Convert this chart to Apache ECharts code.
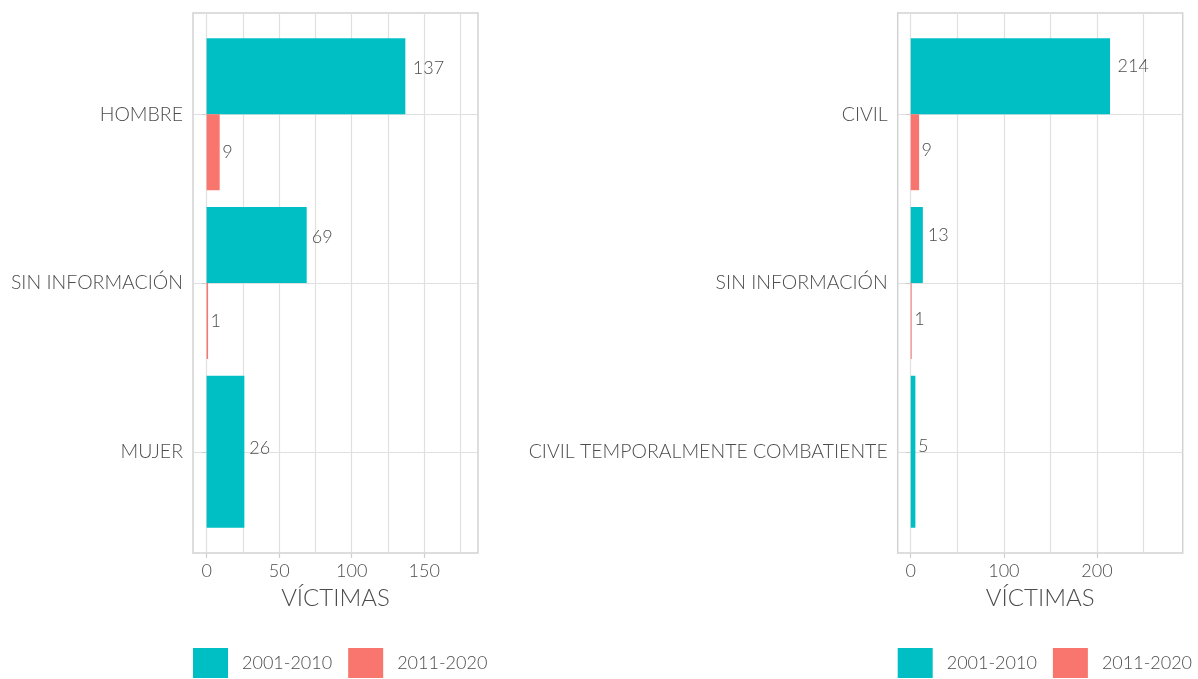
<!DOCTYPE html>
<html><head><meta charset="utf-8">
<script src="https://cdn.jsdelivr.net/npm/echarts@6/dist/echarts.min.js"></script>
<style>html,body{margin:0;padding:0;background:#fff}#c{width:1198px;height:679px}</style>
</head><body><div id="c"></div>
<script>
// ---- data ----
const seriesNames = ['2001-2010', '2011-2020'];
const leftCategories = ['HOMBRE', 'SIN INFORMACIÓN', 'MUJER'];
const left2001 = [137, 69, 26];
const left2011 = [9, 1, null];
const rightCategories = ['CIVIL', 'SIN INFORMACIÓN', 'CIVIL TEMPORALMENTE COMBATIENTE'];
const right2001 = [214, 13, 5];
const right2011 = [9, 1, null];
const leftTicks = [0, 50, 100, 150];
const rightTicks = [0, 100, 200];
const axisTitle = 'VÍCTIMAS';

const TEAL = '#00BFC4', RED = '#F8766D', TXT = '#4d4d4d';
const FONT = 'Lato', FW = 300;
const chart = echarts.init(document.getElementById('c'));

function panel(idx, frameLeft, xMin, xMax, gridMax, gridStep, ticks, cats, s1, s2, offs) {
  const W = 285, TOP = 13, H = 540;
  const ppu = W / (xMax - xMin);
  const zeroX = frameLeft + (0 - xMin) * ppu;
  const band = H / 3.2;
  const g0 = idx * 3;
  const grids = [
    {left: frameLeft, top: TOP, width: W, height: H, show: true, borderColor: '#d2d2d2', borderWidth: 1.5, backgroundColor: 'transparent'},
    {left: zeroX, top: TOP, width: gridMax * ppu, height: H},
    {left: frameLeft, top: TOP + 0.6 * band, width: W, height: 2 * band}
  ];
  const xAxes = [
    {gridIndex: g0, type: 'value', min: xMin, max: xMax,
      axisLine: {show: false},
      axisTick: {show: true, length: 5, customValues: ticks, lineStyle: {color: '#cfcfcf', width: 1.2}},
      axisLabel: {customValues: ticks, margin: 9, fontFamily: FONT, fontWeight: FW, fontSize: 18, color: TXT},
      splitLine: {show: false},
      name: axisTitle, nameLocation: 'middle', nameGap: 33,
      nameTextStyle: {fontFamily: FONT, fontWeight: FW, fontSize: 24, color: TXT}},
    {gridIndex: g0 + 1, type: 'value', min: 0, max: gridMax, interval: gridStep,
      axisLine: {show: false}, axisTick: {show: false}, axisLabel: {show: false},
      splitLine: {show: true, lineStyle: {color: '#e0e0e0', width: 1.2}}},
    {gridIndex: g0 + 2, type: 'value', min: xMin, max: xMax, show: false},
    {gridIndex: g0 + 2, type: 'value', min: xMin, max: xMax, show: false}
  ];
  const yAxes = [
    {gridIndex: g0, type: 'value', show: false},
    {gridIndex: g0 + 1, type: 'value', show: false},
    {gridIndex: g0 + 2, type: 'category', data: cats, inverse: true, boundaryGap: false,
      axisLine: {show: false},
      axisTick: {show: true, length: 5, lineStyle: {color: '#cfcfcf', width: 1.2}},
      axisLabel: {margin: 10, fontFamily: FONT, fontWeight: FW, fontSize: 19.5, color: TXT},
      splitLine: {show: true, lineStyle: {color: '#e0e0e0', width: 1.2}}},
    {gridIndex: g0 + 2, type: 'category', data: cats, inverse: true, boundaryGap: false, show: false}
  ];
  // categories where only one period has a value get a full-width bar (ggplot dodge)
  const both = s1.map((v, i) => v != null && s2[i] != null);
  const mk = (vals, mask, dy) => vals.map((v, i) => mask[i] && v != null ? {
    value: v, label: {distance: 2.5 * String(v).length, offset: [0, dy]}} : null);
  const lbl = {show: true, position: 'right', fontFamily: FONT, fontWeight: FW, fontSize: 18, color: TXT};
  const xi = idx * 4, yi = idx * 4;
  const series = [
    {name: seriesNames[0], type: 'bar', xAxisIndex: xi + 2, yAxisIndex: yi + 2, data: mk(s1, both, offs[0]),
      itemStyle: {color: TEAL}, barGap: '0%', barCategoryGap: '10%', clip: false, label: lbl, silent: true},
    {name: seriesNames[1], type: 'bar', xAxisIndex: xi + 2, yAxisIndex: yi + 2, data: mk(s2, both, offs[1]),
      itemStyle: {color: RED}, barGap: '0%', barCategoryGap: '10%', clip: false, label: lbl, silent: true},
    {name: seriesNames[0], type: 'bar', xAxisIndex: xi + 3, yAxisIndex: yi + 3, data: mk(s1, both.map(b => !b), offs[2]),
      itemStyle: {color: TEAL}, barCategoryGap: '10%', clip: false, label: lbl, silent: true},
    {name: seriesNames[1], type: 'bar', xAxisIndex: xi + 3, yAxisIndex: yi + 3, data: mk(s2, both.map(b => !b), offs[2]),
      itemStyle: {color: RED}, barGap: '-100%', barCategoryGap: '10%', clip: false, label: lbl, silent: true}
  ];
  const legend = {left: frameLeft, top: 648, padding: 0, itemWidth: 35, itemHeight: 30, itemGap: 16,
    icon: 'rect', data: seriesNames, selectedMode: false,
    textStyle: {fontFamily: FONT, fontWeight: FW, fontSize: 18, color: TXT, padding: [0, 0, 0, 9]}};
  return {grids, xAxes, yAxes, series, legend};
}

const L = panel(0, 193, -9.4, 187.1, 175, 25, leftTicks, leftCategories, left2001, left2011, [-8, 0, -4]);
const R = panel(1, 897.7, -14, 292, 250, 50, rightTicks, rightCategories, right2001, right2011, [-10, -2, -6]);

chart.setOption({
  animation: false,
  backgroundColor: '#ffffff',
  grid: L.grids.concat(R.grids),
  xAxis: L.xAxes.concat(R.xAxes),
  yAxis: L.yAxes.concat(R.yAxes),
  legend: [L.legend, R.legend],
  series: L.series.concat(R.series)
});
</script>
</body></html>
